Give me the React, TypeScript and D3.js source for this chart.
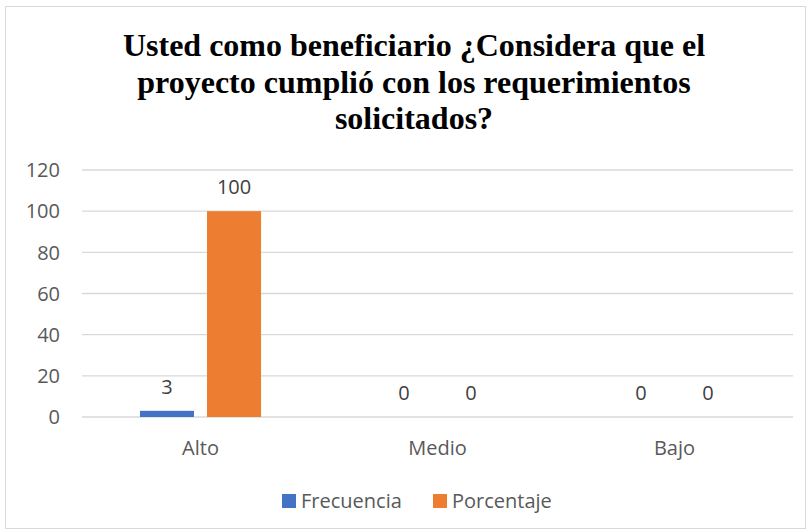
import React from "react";
import * as d3 from "d3";

const categories = ["Alto", "Medio", "Bajo"];
const frecuencia = [3, 0, 0];
const porcentaje = [100, 0, 0];
const seriesNames = ["Frecuencia", "Porcentaje"];
const yTicks = [0, 20, 40, 60, 80, 100, 120];
const titleLines = [
  "Usted como beneficiario ¿Considera que el",
  "proyecto cumplió con los requerimientos",
  "solicitados?",
];

const W = 809;
const H = 532;
const colors = ["#4472C4", "#ED7D31"];

export default function App() {
  const x = d3.scaleBand<string>().domain(categories).range([82, 793]);
  const y = d3.scaleLinear().domain([0, 120]).range([417, 170]);
  const bw = x.bandwidth();
  const barW = bw * 0.228;
  const gap = bw * 0.055;
  const series = [frecuencia, porcentaje];
  const font = "'Open Sans', sans-serif";
  const textColor = "#595959";
  const fs = 20;

  return (
    <svg
      width={W}
      height={H}
      style={{ position: "absolute", left: 0, top: 0, background: "#fff" }}
    >
      <rect x={5.5} y={6.5} width={800} height={522} fill="#fff" stroke="#d9d9d9" />
      {titleLines.map((t, i) => (
        <text
          key={i}
          x={414}
          y={56 + i * 36.5}
          textAnchor="middle"
          fontFamily="'Liberation Serif', 'Times New Roman', serif"
          fontWeight="bold"
          fontSize={32}
          fill="#000"
        >
          {t}
        </text>
      ))}
      {yTicks.map((t) => (
        <g key={t}>
          <line x1={82} x2={793} y1={y(t)} y2={y(t)} stroke="#d9d9d9" strokeWidth={1.3} />
          <text
            x={60}
            y={y(t)}
            dy="0.36em"
            textAnchor="end"
            fontFamily={font}
            fontSize={fs}
            fill={textColor}
          >
            {t}
          </text>
        </g>
      ))}
      {categories.map((c, ci) => {
        const cx = (x(c) as number) + bw / 2;
        return (
          <g key={c}>
            {series.map((s, si) => {
              const bx = si === 0 ? cx - gap / 2 - barW : cx + gap / 2;
              const v = s[ci];
              return (
                <g key={si}>
                  {v > 0 && (
                    <rect
                      x={bx}
                      y={y(v)}
                      width={barW}
                      height={y(0) - y(v)}
                      fill={colors[si]}
                    />
                  )}
                  <text
                    x={bx + barW / 2}
                    y={y(v) - 24}
                    dy="0.36em"
                    textAnchor="middle"
                    fontFamily={font}
                    fontSize={fs}
                    fill="#404040"
                  >
                    {v}
                  </text>
                </g>
              );
            })}
            <text
              x={cx}
              y={448}
              dy="0.36em"
              textAnchor="middle"
              fontFamily={font}
              fontSize={fs}
              fill={textColor}
            >
              {c}
            </text>
          </g>
        );
      })}
      {seriesNames.map((n, i) => {
        const lx = i === 0 ? 282 : 433;
        return (
          <g key={n}>
            <rect x={lx} y={494} width={14} height={14} fill={colors[i]} />
            <text
              x={lx + 19}
              y={501}
              dy="0.36em"
              fontFamily={font}
              fontSize={fs}
              fill={textColor}
            >
              {n}
            </text>
          </g>
        );
      })}
    </svg>
  );
}
